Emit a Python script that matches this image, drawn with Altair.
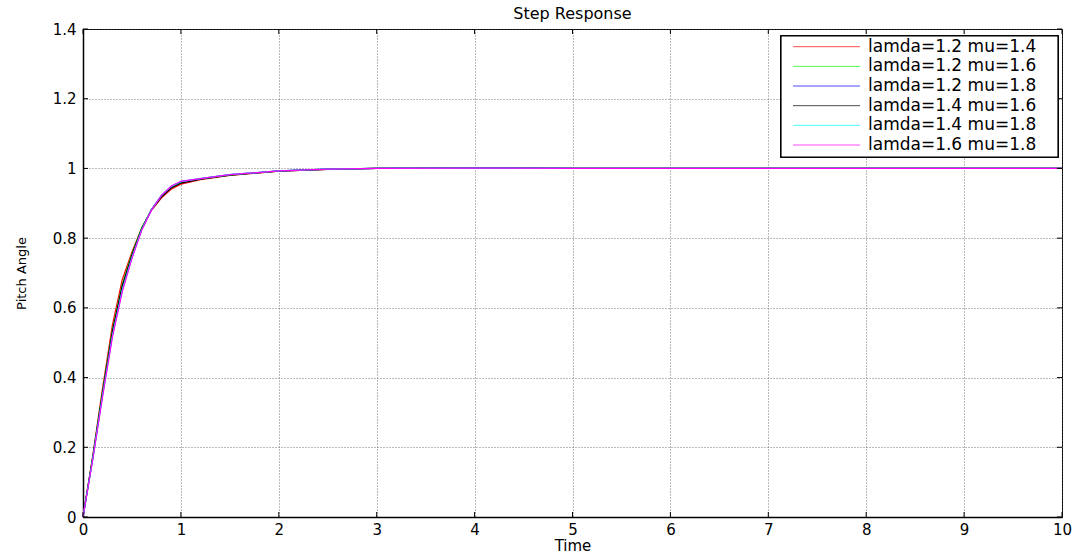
import altair as alt
import pandas as pd

# ---- data ----
times = [0, 0.1, 0.2, 0.3, 0.4, 0.5, 0.6, 0.7, 0.8, 0.9, 1.0, 1.2, 1.5, 2.0, 2.5,
         3.0, 4, 5, 6, 7, 8, 9, 10]

series_names = ["lamda=1.2 mu=1.4", "lamda=1.2 mu=1.6", "lamda=1.2 mu=1.8",
                "lamda=1.4 mu=1.6", "lamda=1.4 mu=1.8", "lamda=1.6 mu=1.8"]
series_colors = ["#ff0000", "#00ff00", "#0000ff", "#000000", "#00ffff", "#ff00ff"]

y_red = [0, 0.177, 0.37, 0.55, 0.68, 0.76, 0.83, 0.88, 0.915, 0.94, 0.955, 0.968, 0.98,
         0.992, 0.997, 1.0, 1.001, 1.0, 1.0, 1.0, 1.0, 1.0, 1.0]
y_green = [0, 0.172, 0.36, 0.535, 0.665, 0.755, 0.83, 0.882, 0.92, 0.945, 0.96, 0.97, 0.981,
           0.993, 0.998, 1.0, 1.001, 1.0, 1.0, 1.0, 1.0, 1.0, 1.0]
y_blue = [0, 0.168, 0.35, 0.52, 0.65, 0.745, 0.825, 0.882, 0.922, 0.948, 0.962, 0.971, 0.982,
          0.993, 0.998, 1.0, 1.001, 1.0, 1.0, 1.0, 1.0, 1.0, 1.0]
y_black = [0, 0.172, 0.358, 0.532, 0.662, 0.752, 0.828, 0.882, 0.918, 0.944, 0.958, 0.969, 0.981,
           0.992, 0.997, 1.0, 1.001, 1.0, 1.0, 1.0, 1.0, 1.0, 1.0]
y_cyan = [0, 0.168, 0.35, 0.52, 0.65, 0.745, 0.825, 0.882, 0.922, 0.948, 0.962, 0.971, 0.982,
          0.993, 0.998, 1.0, 1.001, 1.0, 1.0, 1.0, 1.0, 1.0, 1.0]
y_magenta = [0, 0.165, 0.345, 0.515, 0.645, 0.742, 0.823, 0.881, 0.922, 0.949, 0.963, 0.971, 0.982,
             0.993, 0.998, 1.0, 1.001, 1.0, 1.0, 1.0, 1.0, 1.0, 1.0]

all_y = [y_red, y_green, y_blue, y_black, y_cyan, y_magenta]

x_ticks = [0, 1, 2, 3, 4, 5, 6, 7, 8, 9, 10]
y_ticks = [0, 0.2, 0.4, 0.6, 0.8, 1.0, 1.2, 1.4]

rows = []
for order, (name, ys) in enumerate(zip(series_names, all_y)):
    for t, v in zip(times, ys):
        rows.append({"Time": t, "Pitch": v, "series": name, "order": order})
df = pd.DataFrame(rows)
leg_df = pd.DataFrame({"series": series_names})

W, H = 979, 488
FONT = "DejaVu Sans"

xscale = alt.Scale(domain=[0, 10], nice=False, zero=False)
yscale = alt.Scale(domain=[0, 1.4], nice=False, zero=False)
cscale = alt.Scale(domain=series_names, range=series_colors)
x_axis = alt.Axis(values=x_ticks, format="d", grid=True, labelFlush=False)

lines = alt.Chart(df).mark_line(strokeWidth=1.2).encode(
    x=alt.X("Time:Q", scale=xscale, title="Time", axis=x_axis),
    y=alt.Y("Pitch:Q", scale=yscale, title="Pitch Angle",
            axis=alt.Axis(values=y_ticks, format="~g", grid=True, labelFlush=False)),
    color=alt.Color("series:N", scale=cscale, legend=None),
    order=alt.Order("order:Q"),
    detail="series:N",
)

# inward tick marks (MATLAB style box ticks)
xt = pd.DataFrame({"v": x_ticks})
yt = pd.DataFrame({"v": y_ticks})
tick_bottom = alt.Chart(xt).mark_rule(color="#000").encode(
    x=alt.X("v:Q", scale=xscale, title="Time", axis=x_axis), y=alt.value(H), y2=alt.value(H - 5))
tick_top = alt.Chart(xt).mark_rule(color="#000").encode(
    x=alt.X("v:Q", scale=xscale, title="Time", axis=x_axis), y=alt.value(0), y2=alt.value(5))
tick_left = alt.Chart(yt).mark_rule(color="#000").encode(
    y=alt.Y("v:Q", scale=yscale, axis=None), x=alt.value(0), x2=alt.value(5))
tick_right = alt.Chart(yt).mark_rule(color="#000").encode(
    y=alt.Y("v:Q", scale=yscale, axis=None), x=alt.value(W), x2=alt.value(W - 5))

# legend box drawn as a layer
LX0, LX1, LY0, LY1 = 698, 975, 7, 128
leg_box = alt.Chart(leg_df).mark_rect(fill="#fff", stroke="#000", strokeWidth=1.2).encode(
    x=alt.value(LX0), x2=alt.value(LX1), y=alt.value(LY0), y2=alt.value(LY1))
leg_y = alt.Y("series:N", scale=alt.Scale(type="point", domain=series_names,
                                          range=[17.7, 116], padding=0), axis=None)
leg_lines = alt.Chart(leg_df).mark_rule(strokeWidth=1, opacity=0.7).encode(
    x=alt.value(710), x2=alt.value(777), y=leg_y,
    color=alt.Color("series:N", scale=cscale, legend=None))
leg_text = alt.Chart(leg_df).mark_text(align="left", baseline="middle", font=FONT,
                                       fontSize=17, color="#000").encode(
    x=alt.value(785), y=leg_y, text="series:N")

chart = alt.layer(lines, tick_bottom, tick_top, tick_left, tick_right,
                  leg_box, leg_lines, leg_text).resolve_scale(y="independent").properties(
    width=W, height=H,
    title=alt.TitleParams("Step Response", fontSize=16, fontWeight="normal",
                          font=FONT, color="#000", anchor="middle", offset=0),
    autosize=alt.AutoSizeParams(type="none"),
    padding={"left": 83, "top": 29, "right": 19, "bottom": 39},
).configure_view(stroke="#000", strokeWidth=1).configure_axis(
    labelFont=FONT, titleFont=FONT, labelFontSize=15,
    labelColor="#000", titleColor="#000", titleFontWeight="normal",
    domainColor="#000", domainWidth=1.5, tickSize=0,
    gridColor="#555", gridDash=[1, 2], gridWidth=1, gridOpacity=0.8,
).configure_axisX(labelPadding=5, titlePadding=1, titleFontSize=15).configure_axisY(
    labelPadding=7, titlePadding=24, titleFontSize=13
)

chart.save("out.html", embed_options={"renderer": "svg", "actions": False})
